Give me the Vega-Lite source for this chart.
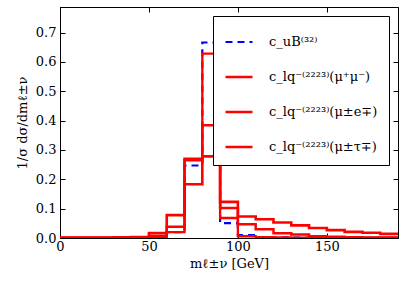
{
  "$schema": "https://vega.github.io/schema/vega-lite/v6.json",
  "width": 338,
  "height": 231,
  "autosize": {"type": "none"},
  "padding": {"left": 60, "top": 7, "right": 9, "bottom": 50},
  "background": "white",
  "config": {
    "view": {"stroke": "black", "strokeWidth": 1},
    "font": "DejaVu Serif",
    "axis": {
      "grid": false,
      "domainColor": "black",
      "tickColor": "black",
      "labelColor": "black",
      "titleColor": "black",
      "labelFont": "DejaVu Serif",
      "titleFont": "DejaVu Serif",
      "labelFontSize": 13,
      "titleFontSize": 13,
      "titleFontWeight": "normal",
      "tickSize": -5,
      "labelFlush": false,
      "labelOverlap": false
    },
    "legend": {
      "orient": "top-right",
      "offset": 9,
      "padding": 11,
      "strokeColor": "black",
      "fillColor": "white",
      "cornerRadius": 0,
      "symbolType": "stroke",
      "symbolSize": 729,
      "labelFontSize": 13,
      "labelFont": "DejaVu Serif",
      "labelColor": "black",
      "labelOffset": 15,
      "rowPadding": 13,
      "labelLimit": 300
    }
  },
  "data": {
    "values": [
      {"s": "c_uB⁽³²⁾", "x": 0, "y": 0},
      {"s": "c_uB⁽³²⁾", "x": 10, "y": 0},
      {"s": "c_uB⁽³²⁾", "x": 20, "y": 0},
      {"s": "c_uB⁽³²⁾", "x": 30, "y": 0},
      {"s": "c_uB⁽³²⁾", "x": 40, "y": 0.001},
      {"s": "c_uB⁽³²⁾", "x": 50, "y": 0.003},
      {"s": "c_uB⁽³²⁾", "x": 60, "y": 0.02},
      {"s": "c_uB⁽³²⁾", "x": 70, "y": 0.247},
      {"s": "c_uB⁽³²⁾", "x": 80, "y": 0.666},
      {"s": "c_uB⁽³²⁾", "x": 90, "y": 0.051},
      {"s": "c_uB⁽³²⁾", "x": 100, "y": 0.01},
      {"s": "c_uB⁽³²⁾", "x": 110, "y": 0.002},
      {"s": "c_uB⁽³²⁾", "x": 120, "y": 0.002},
      {"s": "c_uB⁽³²⁾", "x": 130, "y": 0.001},
      {"s": "c_uB⁽³²⁾", "x": 140, "y": 0.001},
      {"s": "c_uB⁽³²⁾", "x": 150, "y": 0},
      {"s": "c_uB⁽³²⁾", "x": 160, "y": 0},
      {"s": "c_uB⁽³²⁾", "x": 170, "y": 0},
      {"s": "c_uB⁽³²⁾", "x": 180, "y": 0},
      {"s": "c_uB⁽³²⁾", "x": 190, "y": 0},

      {"s": "c_lq⁻⁽²²²³⁾(μ⁺μ⁻)", "x": 0, "y": 0.001},
      {"s": "c_lq⁻⁽²²²³⁾(μ⁺μ⁻)", "x": 10, "y": 0.001},
      {"s": "c_lq⁻⁽²²²³⁾(μ⁺μ⁻)", "x": 20, "y": 0.001},
      {"s": "c_lq⁻⁽²²²³⁾(μ⁺μ⁻)", "x": 30, "y": 0.001},
      {"s": "c_lq⁻⁽²²²³⁾(μ⁺μ⁻)", "x": 40, "y": 0.002},
      {"s": "c_lq⁻⁽²²²³⁾(μ⁺μ⁻)", "x": 50, "y": 0.004},
      {"s": "c_lq⁻⁽²²²³⁾(μ⁺μ⁻)", "x": 60, "y": 0.02},
      {"s": "c_lq⁻⁽²²²³⁾(μ⁺μ⁻)", "x": 70, "y": 0.265},
      {"s": "c_lq⁻⁽²²²³⁾(μ⁺μ⁻)", "x": 80, "y": 0.628},
      {"s": "c_lq⁻⁽²²²³⁾(μ⁺μ⁻)", "x": 90, "y": 0.068},
      {"s": "c_lq⁻⁽²²²³⁾(μ⁺μ⁻)", "x": 100, "y": 0.006},
      {"s": "c_lq⁻⁽²²²³⁾(μ⁺μ⁻)", "x": 110, "y": 0.003},
      {"s": "c_lq⁻⁽²²²³⁾(μ⁺μ⁻)", "x": 120, "y": 0.002},
      {"s": "c_lq⁻⁽²²²³⁾(μ⁺μ⁻)", "x": 130, "y": 0.001},
      {"s": "c_lq⁻⁽²²²³⁾(μ⁺μ⁻)", "x": 140, "y": 0.001},
      {"s": "c_lq⁻⁽²²²³⁾(μ⁺μ⁻)", "x": 150, "y": 0.001},
      {"s": "c_lq⁻⁽²²²³⁾(μ⁺μ⁻)", "x": 160, "y": 0.001},
      {"s": "c_lq⁻⁽²²²³⁾(μ⁺μ⁻)", "x": 170, "y": 0.001},
      {"s": "c_lq⁻⁽²²²³⁾(μ⁺μ⁻)", "x": 180, "y": 0.001},
      {"s": "c_lq⁻⁽²²²³⁾(μ⁺μ⁻)", "x": 190, "y": 0.001},

      {"s": "c_lq⁻⁽²²²³⁾(μ±e∓)", "x": 0, "y": 0.001},
      {"s": "c_lq⁻⁽²²²³⁾(μ±e∓)", "x": 10, "y": 0.001},
      {"s": "c_lq⁻⁽²²²³⁾(μ±e∓)", "x": 20, "y": 0.001},
      {"s": "c_lq⁻⁽²²²³⁾(μ±e∓)", "x": 30, "y": 0.001},
      {"s": "c_lq⁻⁽²²²³⁾(μ±e∓)", "x": 40, "y": 0.002},
      {"s": "c_lq⁻⁽²²²³⁾(μ±e∓)", "x": 50, "y": 0.008},
      {"s": "c_lq⁻⁽²²²³⁾(μ±e∓)", "x": 60, "y": 0.038},
      {"s": "c_lq⁻⁽²²²³⁾(μ±e∓)", "x": 70, "y": 0.27},
      {"s": "c_lq⁻⁽²²²³⁾(μ±e∓)", "x": 80, "y": 0.384},
      {"s": "c_lq⁻⁽²²²³⁾(μ±e∓)", "x": 90, "y": 0.102},
      {"s": "c_lq⁻⁽²²²³⁾(μ±e∓)", "x": 100, "y": 0.047},
      {"s": "c_lq⁻⁽²²²³⁾(μ±e∓)", "x": 110, "y": 0.03},
      {"s": "c_lq⁻⁽²²²³⁾(μ±e∓)", "x": 120, "y": 0.016},
      {"s": "c_lq⁻⁽²²²³⁾(μ±e∓)", "x": 130, "y": 0.012},
      {"s": "c_lq⁻⁽²²²³⁾(μ±e∓)", "x": 140, "y": 0.006},
      {"s": "c_lq⁻⁽²²²³⁾(μ±e∓)", "x": 150, "y": 0.004},
      {"s": "c_lq⁻⁽²²²³⁾(μ±e∓)", "x": 160, "y": 0.003},
      {"s": "c_lq⁻⁽²²²³⁾(μ±e∓)", "x": 170, "y": 0.002},
      {"s": "c_lq⁻⁽²²²³⁾(μ±e∓)", "x": 180, "y": 0.002},
      {"s": "c_lq⁻⁽²²²³⁾(μ±e∓)", "x": 190, "y": 0.002},

      {"s": "c_lq⁻⁽²²²³⁾(μ±τ∓)", "x": 0, "y": 0.001},
      {"s": "c_lq⁻⁽²²²³⁾(μ±τ∓)", "x": 10, "y": 0.001},
      {"s": "c_lq⁻⁽²²²³⁾(μ±τ∓)", "x": 20, "y": 0.001},
      {"s": "c_lq⁻⁽²²²³⁾(μ±τ∓)", "x": 30, "y": 0.002},
      {"s": "c_lq⁻⁽²²²³⁾(μ±τ∓)", "x": 40, "y": 0.003},
      {"s": "c_lq⁻⁽²²²³⁾(μ±τ∓)", "x": 50, "y": 0.017},
      {"s": "c_lq⁻⁽²²²³⁾(μ±τ∓)", "x": 60, "y": 0.078},
      {"s": "c_lq⁻⁽²²²³⁾(μ±τ∓)", "x": 70, "y": 0.183},
      {"s": "c_lq⁻⁽²²²³⁾(μ±τ∓)", "x": 80, "y": 0.278},
      {"s": "c_lq⁻⁽²²²³⁾(μ±τ∓)", "x": 90, "y": 0.123},
      {"s": "c_lq⁻⁽²²²³⁾(μ±τ∓)", "x": 100, "y": 0.073},
      {"s": "c_lq⁻⁽²²²³⁾(μ±τ∓)", "x": 110, "y": 0.064},
      {"s": "c_lq⁻⁽²²²³⁾(μ±τ∓)", "x": 120, "y": 0.053},
      {"s": "c_lq⁻⁽²²²³⁾(μ±τ∓)", "x": 130, "y": 0.043},
      {"s": "c_lq⁻⁽²²²³⁾(μ±τ∓)", "x": 140, "y": 0.034},
      {"s": "c_lq⁻⁽²²²³⁾(μ±τ∓)", "x": 150, "y": 0.027},
      {"s": "c_lq⁻⁽²²²³⁾(μ±τ∓)", "x": 160, "y": 0.021},
      {"s": "c_lq⁻⁽²²²³⁾(μ±τ∓)", "x": 170, "y": 0.018},
      {"s": "c_lq⁻⁽²²²³⁾(μ±τ∓)", "x": 180, "y": 0.014},
      {"s": "c_lq⁻⁽²²²³⁾(μ±τ∓)", "x": 190, "y": 0.014}
    ]
  },
  "layer": [
    {
      "transform": [{"filter": "datum.s === 'c_uB⁽³²⁾'"}],
      "mark": {"type": "line", "interpolate": "step-after", "clip": true},
      "encoding": {
        "x": {"field": "x", "type": "quantitative", "scale": {"domain": [0, 190], "nice": false, "zero": false},
              "axis": {"orient": "bottom", "values": [0, 50, 100, 150], "format": "d", "title": "mℓ±ν [GeV]", "labelPadding": 7, "titlePadding": 4}},
        "y": {"field": "y", "type": "quantitative", "scale": {"domain": [0, 0.787], "nice": false},
              "axis": {"orient": "left", "values": [0, 0.1, 0.2, 0.3, 0.4, 0.5, 0.6, 0.7], "format": ".1f", "title": "1/σ dσ/dmℓ±ν", "labelPadding": 9, "titlePadding": 6}},
        "color": {"field": "s", "type": "nominal", "title": null,
                  "scale": {"domain": ["c_uB⁽³²⁾", "c_lq⁻⁽²²²³⁾(μ⁺μ⁻)", "c_lq⁻⁽²²²³⁾(μ±e∓)", "c_lq⁻⁽²²²³⁾(μ±τ∓)"], "range": ["#0000ff", "#ff0000", "#ff0000", "#ff0000"]},
                  "legend": {"encode": {"symbols": {"update": {"strokeWidth": {"scale": "strokeWidth", "field": "value"}, "opacity": {"scale": "opacity", "field": "value"}}}}}},
        "strokeDash": {"field": "s", "type": "nominal", "title": null,
                  "scale": {"domain": ["c_uB⁽³²⁾", "c_lq⁻⁽²²²³⁾(μ⁺μ⁻)", "c_lq⁻⁽²²²³⁾(μ±e∓)", "c_lq⁻⁽²²²³⁾(μ±τ∓)"], "range": [[7, 5], [1, 0], [1, 0], [1, 0]]}},
        "strokeWidth": {"field": "s", "type": "nominal", "title": null,
                  "scale": {"domain": ["c_uB⁽³²⁾", "c_lq⁻⁽²²²³⁾(μ⁺μ⁻)", "c_lq⁻⁽²²²³⁾(μ±e∓)", "c_lq⁻⁽²²²³⁾(μ±τ∓)"], "range": [2.2, 2.6, 1.8, 1.2]}},
        "opacity": {"field": "s", "type": "nominal", "title": null,
                  "scale": {"domain": ["c_uB⁽³²⁾", "c_lq⁻⁽²²²³⁾(μ⁺μ⁻)", "c_lq⁻⁽²²²³⁾(μ±e∓)", "c_lq⁻⁽²²²³⁾(μ±τ∓)"], "range": [1, 1, 0.85, 0.7]}}
      }
    },
    {
      "transform": [{"filter": "datum.s !== 'c_uB⁽³²⁾'"}],
      "mark": {"type": "line", "interpolate": "step-after", "clip": true},
      "encoding": {
        "x": {"field": "x", "type": "quantitative", "scale": {"domain": [0, 190], "nice": false, "zero": false},
              "axis": {"orient": "top", "values": [0, 50, 100, 150], "labels": false, "title": null}},
        "y": {"field": "y", "type": "quantitative", "scale": {"domain": [0, 0.787], "nice": false},
              "axis": {"orient": "right", "values": [0, 0.1, 0.2, 0.3, 0.4, 0.5, 0.6, 0.7], "labels": false, "title": null}},
        "color": {"field": "s", "type": "nominal", "title": null,
                  "scale": {"domain": ["c_uB⁽³²⁾", "c_lq⁻⁽²²²³⁾(μ⁺μ⁻)", "c_lq⁻⁽²²²³⁾(μ±e∓)", "c_lq⁻⁽²²²³⁾(μ±τ∓)"], "range": ["#0000ff", "#ff0000", "#ff0000", "#ff0000"]}},
        "strokeDash": {"field": "s", "type": "nominal", "title": null,
                  "scale": {"domain": ["c_uB⁽³²⁾", "c_lq⁻⁽²²²³⁾(μ⁺μ⁻)", "c_lq⁻⁽²²²³⁾(μ±e∓)", "c_lq⁻⁽²²²³⁾(μ±τ∓)"], "range": [[7, 5], [1, 0], [1, 0], [1, 0]]}},
        "strokeWidth": {"field": "s", "type": "nominal", "title": null,
                  "scale": {"domain": ["c_uB⁽³²⁾", "c_lq⁻⁽²²²³⁾(μ⁺μ⁻)", "c_lq⁻⁽²²²³⁾(μ±e∓)", "c_lq⁻⁽²²²³⁾(μ±τ∓)"], "range": [2.2, 2.6, 1.8, 1.2]}},
        "opacity": {"field": "s", "type": "nominal", "title": null,
                  "scale": {"domain": ["c_uB⁽³²⁾", "c_lq⁻⁽²²²³⁾(μ⁺μ⁻)", "c_lq⁻⁽²²²³⁾(μ±e∓)", "c_lq⁻⁽²²²³⁾(μ±τ∓)"], "range": [1, 1, 0.85, 0.7]}}
      }
    }
  ],
  "resolve": {"axis": {"x": "independent", "y": "independent"}}
}
